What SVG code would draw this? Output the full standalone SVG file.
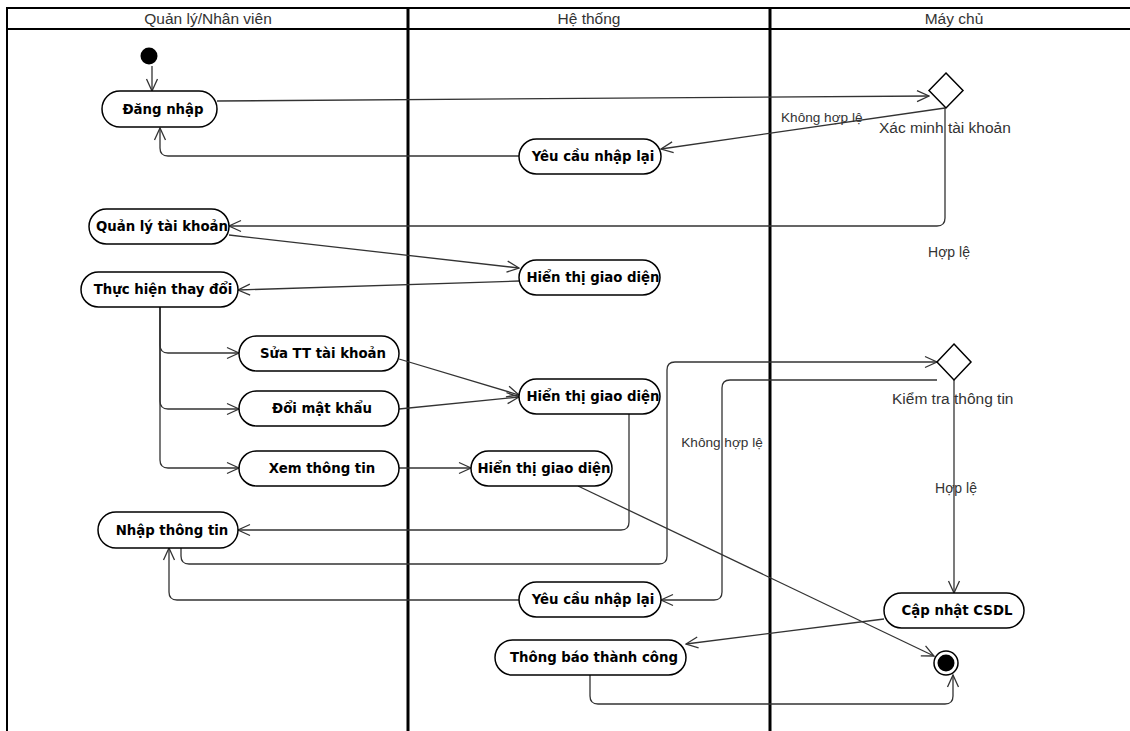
<svg xmlns="http://www.w3.org/2000/svg" width="1130" height="731" viewBox="0 0 1130 731">
<defs>
<marker id="arr" viewBox="0 0 14 14" refX="13" refY="7" markerWidth="14" markerHeight="14" orient="auto" markerUnits="userSpaceOnUse">
<path d="M1,1.5 L13,7 L1,12.5" fill="none" stroke="#333" stroke-width="1.3"/>
</marker>
<style>
.lane{stroke:#000;fill:none}
.hdr{font-family:"Liberation Sans",Arial,sans-serif;font-size:15.5px;fill:#333;text-anchor:middle}
.pill{fill:#fff;stroke:#000;stroke-width:1.5}
.nt{font-family:"DejaVu Sans",Verdana,sans-serif;font-weight:bold;font-size:13.3px;fill:#000;text-anchor:middle}
.lbl{font-family:"Liberation Sans",Arial,sans-serif;fill:#333}
.edge{fill:none;stroke:#333;stroke-width:1.3;marker-end:url(#arr)}
</style>
</defs>
<rect width="1130" height="731" fill="#fff"/>
<g id="swimlanes">
<line class="lane" x1="6" y1="8" x2="1130" y2="8" stroke-width="2"/>
<line class="lane" x1="6" y1="29" x2="1130" y2="29" stroke-width="2"/>
<line class="lane" x1="7" y1="7" x2="7" y2="731" stroke-width="2"/>
<line class="lane" x1="408" y1="7" x2="408" y2="731" stroke-width="3"/>
<line class="lane" x1="770" y1="7" x2="770" y2="731" stroke-width="3"/>
<text class="hdr" x="208" y="24">Quản lý/Nhân viên</text>
<text class="hdr" x="589" y="24">Hệ thống</text>
<text class="hdr" x="954" y="24">Máy chủ</text>
</g>
<g id="connectors">
<path class="edge" d="M152,66 L152,91"/>
<path class="edge" d="M217,101 L929,96"/>
<path class="edge" d="M945,108 L661,149"/>
<path class="edge" d="M519,156 L168,156 Q160,156 160,148 L160,128"/>
<path class="edge" d="M945,108 L945,218 Q945,226 937,226 L229,226"/>
<path class="edge" d="M229,235 L519,268"/>
<path class="edge" d="M519,281 L238,290"/>
<path class="edge" d="M160,307 L160,345 Q160,353 168,353 L239,353"/>
<path class="edge" d="M160,307 L160,401 Q160,409 168,409 L239,409"/>
<path class="edge" d="M160,307 L160,460 Q160,468 168,468 L239,468"/>
<path class="edge" d="M399,359 L519,395"/>
<path class="edge" d="M399,409 L519,397"/>
<path class="edge" d="M399,468 L471,468"/>
<path class="edge" d="M629,414 L629,522 Q629,530 621,530 L238,530"/>
<path class="edge" d="M181,548 L181,556 Q181,564 189,564 L659,564 Q667,564 667,556 L667,370 Q667,362 675,362 L937,362"/>
<path class="edge" d="M937,380 L730,380 Q722,380 722,388 L722,592 Q722,600 714,600 L661,600"/>
<path class="edge" d="M954,380 L954,593"/>
<path class="edge" d="M519,600 L177,600 Q169,600 169,592 L169,548"/>
<path class="edge" d="M884,619 L686,644"/>
<path class="edge" d="M578,486 L934,656"/>
<path class="edge" d="M590,675 L590,696 Q590,704 598,704 L945,704 Q953,704 953,696 L953,675"/>
<text class="lbl" x="781" y="122" font-size="13.6">Không hợp lệ</text>
<text class="lbl" x="949" y="257" font-size="14" text-anchor="middle">Hợp lệ</text>
<text class="lbl" x="722" y="447" font-size="13.6" text-anchor="middle">Không hợp lệ</text>
<text class="lbl" x="956" y="493" font-size="14" text-anchor="middle">Hợp lệ</text>
</g>
<g id="start"><circle cx="149" cy="56" r="8.5" fill="#000"/></g>
<g id="dang-nhap"><rect class="pill" x="102" y="91" width="115" height="36" rx="18"/><text class="nt" x="163" y="114">Đăng nhập</text></g>
<g id="xac-minh"><path d="M946,73 L963,90.5 L946,108 L929,90.5 Z" fill="#fff" stroke="#000" stroke-width="1.5"/><text class="lbl" x="879" y="133" font-size="15.5">Xác minh tài khoản</text></g>
<g id="yeu-cau-1"><rect class="pill" x="519" y="139" width="142" height="35" rx="17.5"/><text class="nt" x="593" y="161">Yêu cầu nhập lại</text></g>
<g id="quan-ly"><rect class="pill" x="89" y="209" width="140" height="35" rx="17.5"/><text class="nt" x="162" y="231">Quản lý tài khoản</text></g>
<g id="hien-thi-1"><rect class="pill" x="519" y="260" width="141" height="35" rx="17.5"/><text class="nt" x="593" y="282">Hiển thị giao diện</text></g>
<g id="thuc-hien"><rect class="pill" x="81" y="272" width="157" height="35" rx="17.5"/><text class="nt" x="163" y="294">Thực hiện thay đổi</text></g>
<g id="sua-tt"><rect class="pill" x="239" y="336" width="160" height="35" rx="17.5"/><text class="nt" x="323" y="358">Sửa TT tài khoản</text></g>
<g id="doi-mk"><rect class="pill" x="239" y="391" width="160" height="35" rx="17.5"/><text class="nt" x="322" y="413">Đổi mật khẩu</text></g>
<g id="xem-tt"><rect class="pill" x="239" y="451" width="160" height="35" rx="17.5"/><text class="nt" x="322" y="473">Xem thông tin</text></g>
<g id="hien-thi-2"><rect class="pill" x="519" y="379" width="141" height="35" rx="17.5"/><text class="nt" x="593" y="401">Hiển thị giao diện</text></g>
<g id="hien-thi-3"><rect class="pill" x="471" y="451" width="141" height="35" rx="17.5"/><text class="nt" x="544" y="473">Hiển thị giao diện</text></g>
<g id="nhap-tt"><rect class="pill" x="98" y="512" width="140" height="36" rx="18"/><text class="nt" x="172" y="535">Nhập thông tin</text></g>
<g id="kiem-tra"><path d="M954,344 L971,362 L954,380 L937,362 Z" fill="#fff" stroke="#000" stroke-width="1.5"/><text class="lbl" x="892" y="404" font-size="15.5">Kiểm tra thông tin</text></g>
<g id="yeu-cau-2"><rect class="pill" x="519" y="582" width="142" height="35" rx="17.5"/><text class="nt" x="593" y="604">Yêu cầu nhập lại</text></g>
<g id="cap-nhat"><rect class="pill" x="884" y="593" width="140" height="35" rx="17.5"/><text class="nt" x="957" y="615">Cập nhật CSDL</text></g>
<g id="thong-bao"><rect class="pill" x="495" y="640" width="191" height="35" rx="17.5"/><text class="nt" x="594" y="662">Thông báo thành công</text></g>
<g id="end"><circle cx="946" cy="663" r="12" fill="#fff" stroke="#000" stroke-width="1.5"/><circle cx="946" cy="663" r="8.5" fill="#000"/></g>
</svg>
